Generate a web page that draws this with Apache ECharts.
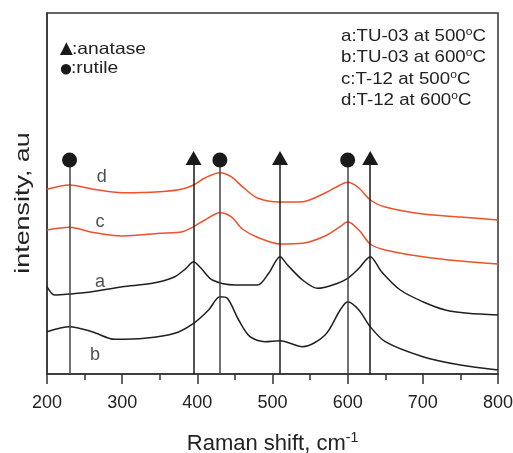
<!DOCTYPE html>
<html>
<head>
<meta charset="utf-8">
<script src="https://cdn.jsdelivr.net/npm/echarts@6/dist/echarts.min.js"></script>
<style>
html,body{margin:0;padding:0;background:#fff;}
#chart{width:513px;height:453px;}
</style>
</head>
<body>
<div id="chart"></div>
<script>
// Raman shift (cm-1) and relative intensity (arbitrary units, stacked offsets)
var curveD_x = [200,230,260,300,350,380,395,410,430,445,460,480,510,540,570,590,600,615,630,650,700,750,800];
var curveD_y = [184.7,189,185,181.3,182.3,185,189,196,201.3,197.3,187.3,176,172,172.3,181,189,191.7,186,174,167,160,157,154];
var curveC_x = [200,230,260,300,350,380,395,410,430,445,460,480,510,540,570,590,600,615,630,650,700,750,800];
var curveC_y = [144,146.7,141.7,138,140.7,142.3,147.3,154,161.3,157.3,145,136.7,130,130.7,138,147.3,152.3,144,130,124,117.3,113,110];
var curveA_x = [200,210,230,260,300,340,370,385,395,405,420,450,480,495,510,520,540,560,580,600,615,630,645,670,700,730,760,800];
var curveA_y = [87.3,79,80,82.3,87.3,90.7,97.3,105.7,112.3,105.7,94,89,89,100.7,117.3,109,94,85.7,89,95.7,105.7,117.3,102.3,84,72.3,64,60.7,59];
var curveB_x = [200,230,260,290,330,370,395,415,430,440,455,470,490,510,540,570,590,600,615,630,650,700,750,800];
var curveB_y = [42.3,47.3,42.3,34.7,35.7,40.7,50.7,64,77.3,75.7,54,37.3,32.3,33.3,27.3,39,64,72.3,64,47.3,32.3,17.3,9,4];

// peak positions
var anataseX = [395, 510, 630];
var rutileX = [230, 430, 600];
var anataseMarkY = 216;
var rutileMarkY = 214;

// curve labels
var curveLabels = ['d', 'c', 'a', 'b'];
var curveLabelX = [272.8, 270.5, 270.5, 263.9];
var curveLabelY = [197.3, 152.3, 92.3, 19];

// axis
var xTicks = [200, 300, 400, 500, 600, 700, 800];
var legendLines = [
  'a:TU-03 at 500{sup|o}C',
  'b:TU-03 at 600{sup|o}C',
  'c:T-12 at 500{sup|o}C',
  'd:T-12 at 600{sup|o}C'
];

function zip(xs, ys) { return xs.map(function (x, i) { return [x, ys[i]]; }); }

var ORANGE = '#f0502a';
var BLACK = '#231f20';
var FONT = 'Liberation Sans, Arial, sans-serif';

var chart = echarts.init(document.getElementById('chart'));

function lineSeries(name, xs, ys, color) {
  return {
    name: name, type: 'line', data: zip(xs, ys), showSymbol: false, symbol: 'none',
    smooth: 0.3, lineStyle: { color: color, width: 1.5 }, silent: true, z: 3
  };
}

function vLines(xs, yTop) {
  return xs.map(function (x) { return [{ coord: [x, 0] }, { coord: [x, yTop] }]; });
}

var legendGraphics = legendLines.map(function (t, i) {
  return {
    type: 'text', x: 341, y: 36.5 + i * 21.3, scaleX: 1.1,
    style: {
      text: t, font: '17px ' + FONT, fill: '#222', verticalAlign: 'middle', align: 'left',
      rich: {
        sup: { fontSize: 11, fontFamily: FONT, fill: '#222', verticalAlign: 'top', lineHeight: 10 }
      },
      lineHeight: 20
    }
  };
});

var option = {
  animation: false,
  backgroundColor: '#fff',
  grid: { left: 47, right: 15, top: 13, bottom: 79, show: true, borderColor: '#333', borderWidth: 1.5,
    backgroundColor: 'transparent', containLabel: false, outerBoundsMode: 'none' },
  xAxis: {
    type: 'value', min: 200, max: 800, interval: 100,
    name: 'Raman shift, cm{sup|-1}', nameLocation: 'middle', nameGap: 57,
    nameTextStyle: {
      fontSize: 22, fontFamily: FONT, color: '#222', lineHeight: 26,
      rich: { sup: { fontSize: 14, fontFamily: FONT, color: '#222', verticalAlign: 'top', lineHeight: 12 } }
    },
    axisLine: { show: true, lineStyle: { color: '#333', width: 1.5 } },
    axisTick: { show: true, inside: false, length: 10, lineStyle: { color: '#333', width: 1.5 } },
    minorTick: { show: true, splitNumber: 2, length: 6, lineStyle: { color: '#333', width: 1.5 } },
    axisLabel: { fontSize: 18, fontFamily: FONT, color: '#222', margin: 20,
      formatter: function (v) { return xTicks.indexOf(v) >= 0 ? String(v) : ''; } },
    splitLine: { show: false }
  },
  yAxis: {
    type: 'value', min: 0, max: 361,
    axisLine: { show: true, lineStyle: { color: '#333', width: 1.5 } },
    axisTick: { show: false }, axisLabel: { show: false }, splitLine: { show: false }
  },
  graphic: legendGraphics.concat([
    { type: 'text', x: 66.5, y: 49, style: { text: '\u25B2', font: '22px ' + FONT, fill: '#1a1a1a', verticalAlign: 'middle', align: 'center' } },
    { type: 'text', x: 72, y: 49, scaleX: 1.17,
      style: { text: ':anatase', font: '16.5px ' + FONT, fill: '#222', verticalAlign: 'middle', align: 'left' } },
    { type: 'text', x: 66, y: 69.5, style: { text: '\u25CF', font: '24px ' + FONT, fill: '#1a1a1a', verticalAlign: 'middle', align: 'center' } },
    { type: 'text', x: 71, y: 68.5, scaleX: 1.17,
      style: { text: ':rutile', font: '16.5px ' + FONT, fill: '#222', verticalAlign: 'middle', align: 'left' } },
    { type: 'text', x: 23, y: 203, rotation: Math.PI / 2, scaleX: 1.28,
      style: { text: 'intensity, au', font: '21px ' + FONT, fill: '#222', align: 'center', verticalAlign: 'middle' } }
  ]),
  series: [
    lineSeries('d', curveD_x, curveD_y, ORANGE),
    lineSeries('c', curveC_x, curveC_y, ORANGE),
    lineSeries('a', curveA_x, curveA_y, BLACK),
    lineSeries('b', curveB_x, curveB_y, BLACK),
    {
      name: 'anatase', type: 'scatter', symbol: 'triangle', symbolSize: [16, 14],
      data: anataseX.map(function (x) { return [x, anataseMarkY]; }),
      itemStyle: { color: '#1a1a1a', opacity: 1 }, silent: true, z: 5,
      markLine: { silent: true, symbol: 'none', label: { show: false },
        lineStyle: { color: '#1a1a1a', width: 1.5, type: 'solid', opacity: 1 }, data: vLines(anataseX, anataseMarkY) }
    },
    {
      name: 'rutile', type: 'scatter', symbol: 'circle', symbolSize: 15,
      data: rutileX.map(function (x) { return [x, rutileMarkY]; }),
      itemStyle: { color: '#1a1a1a', opacity: 1 }, silent: true, z: 5,
      markLine: { silent: true, symbol: 'none', label: { show: false },
        lineStyle: { color: '#444', width: 1.5, type: 'solid', opacity: 1 }, data: vLines(rutileX, rutileMarkY) }
    },
    {
      name: 'labels', type: 'scatter', symbolSize: 0, silent: true, z: 6,
      data: curveLabels.map(function (t, i) { return { value: [curveLabelX[i], curveLabelY[i]], name: t }; }),
      label: { show: true, position: 'inside', formatter: '{b}', fontSize: 18, fontFamily: FONT, color: '#222' }
    }
  ]
};
chart.setOption(option);
</script>
</body>
</html>
